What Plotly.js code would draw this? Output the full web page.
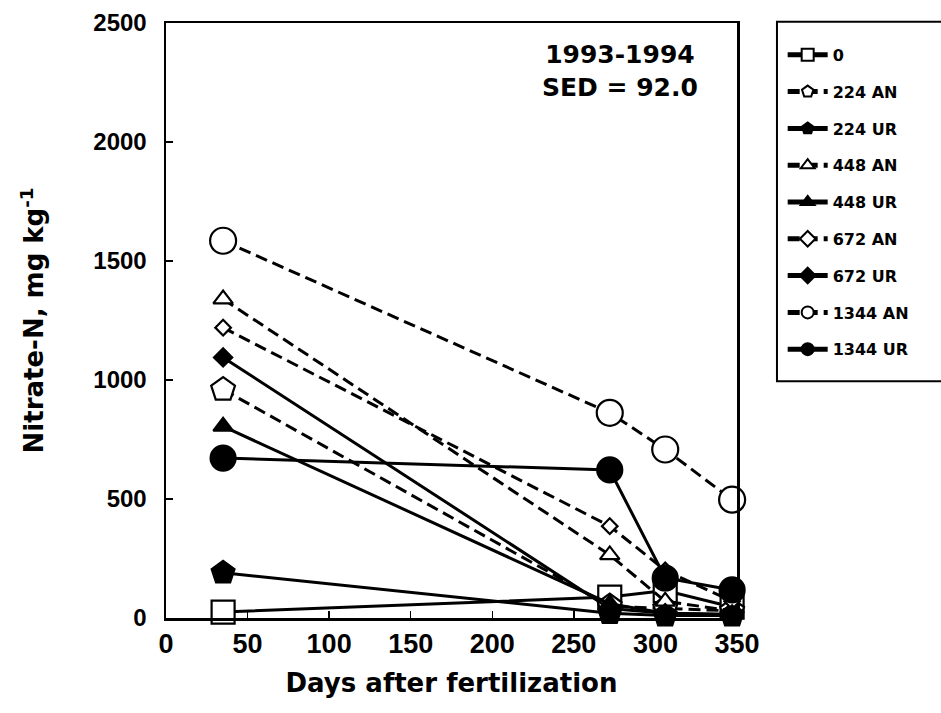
<!DOCTYPE html>
<html>
<head>
<meta charset="utf-8">
<script src="https://cdn.plot.ly/plotly-3.0.1.min.js"></script>
<style>html,body{margin:0;padding:0;background:#fff;}#chart{width:941px;height:713px;}</style>
</head>
<body>
<div id="chart"></div>
<script>
const days = [35, 272, 306, 347];
const seriesNames = ["0", "224 AN", "224 UR", "448 AN", "448 UR", "672 AN", "672 UR", "1344 AN", "1344 UR"];
const n0      = [25, 88, 115, 46];
const an224   = [960, 50, 40, 30];
const ur224   = [190, 20, 10, 10];
const an448   = [1340, 265, 70, 30];
const ur448   = [805, 60, 20, 15];
const an672   = [1220, 386, 200, 70];
const ur672   = [1095, 40, 20, 15];
const an1344  = [1585, 862, 708, 497];
const ur1344  = [672, 622, 168, 118];
const xTicks = [0, 50, 100, 150, 200, 250, 300, 350];
const yTicks = [0, 500, 1000, 1500, 2000, 2500];

const values = [n0, an224, ur224, an448, ur448, an672, ur672, an1344, ur1344];
const styles = [
  {sym: "square", open: true, dash: "solid", size: 23},
  {sym: "pentagon", open: true, dash: "12px,6px", size: 25},
  {sym: "pentagon", open: false, dash: "solid", size: 24},
  {sym: "triangle-up", open: true, dash: "12px,6px", size: 17},
  {sym: "triangle-up", open: false, dash: "solid", size: 17},
  {sym: "diamond", open: true, dash: "12px,6px", size: 12},
  {sym: "diamond", open: false, dash: "solid", size: 14},
  {sym: "circle", open: true, dash: "12px,6px", size: 26},
  {sym: "circle", open: false, dash: "solid", size: 25}
];

const traces = values.map((v, i) => ({
  x: days, y: v, name: seriesNames[i], type: "scatter", mode: "lines+markers",
  legendgroup: "g" + i, cliponaxis: false,
  line: {color: "#000", width: 3, dash: styles[i].dash},
  marker: {symbol: styles[i].sym, size: styles[i].size,
           color: styles[i].open ? "#fff" : "#000",
           line: {color: "#000", width: 2.2}}
}));

const arial = "Liberation Sans, Arial, sans-serif";
const wide = "DejaVu Sans, Liberation Sans, sans-serif";
const layout = {
  width: 941, height: 713,
  margin: {l: 166, r: 204, t: 23, b: 95},
  paper_bgcolor: "#fff", plot_bgcolor: "#fff",
  font: {family: arial, color: "#000", weight: "bold"},
  showlegend: true,
  legend: {x: 1.08, y: 0.975, xanchor: "left", yanchor: "top",
           font: {size: 16, family: wide, weight: "bold"},
           tracegroupgap: 13, itemsizing: "constant", itemwidth: 40,
           bgcolor: "rgba(0,0,0,0)", borderwidth: 0},
  xaxis: {range: [0, 350], tickvals: xTicks, ticktext: xTicks.map(String),
          ticks: "inside", ticklen: 7, tickwidth: 1.5, tickcolor: "#000",
          showline: true, linewidth: 2.5, linecolor: "#000", mirror: true,
          showgrid: false, zeroline: false,
          tickfont: {size: 27, family: arial, weight: "bold"},
          title: {text: "Days after fertilization", font: {size: 26, family: wide, weight: "bold"}, standoff: 16}},
  yaxis: {range: [0, 2500], tickvals: yTicks, ticktext: yTicks.map(String),
          ticks: "inside", ticklen: 7, tickwidth: 1.5, tickcolor: "#000",
          showline: true, linewidth: 2.5, linecolor: "#000", mirror: true,
          showgrid: false, zeroline: false, ticklabelstandoff: 12,
          tickfont: {size: 24, family: arial, weight: "bold"},
          title: {text: "Nitrate-N, mg kg<sup>-1</sup>", font: {size: 26, family: wide, weight: "bold"}, standoff: 42}},
  annotations: [{xref: "paper", yref: "paper", x: 0.795, y: 0.975, xanchor: "center", yanchor: "top",
                 text: "1993-1994<br>SED = 92.0", showarrow: false, align: "center",
                 font: {size: 25, family: wide, weight: "bold"}}],
  shapes: [{type: "rect", xref: "paper", yref: "paper", x0: 1.07, x1: 1.45, y0: 0.398, y1: 1.002,
            line: {color: "#000", width: 2}, fillcolor: "rgba(0,0,0,0)"}]
};

Plotly.newPlot("chart", traces, layout, {displayModeBar: false, staticPlot: true});
</script>
</body>
</html>
